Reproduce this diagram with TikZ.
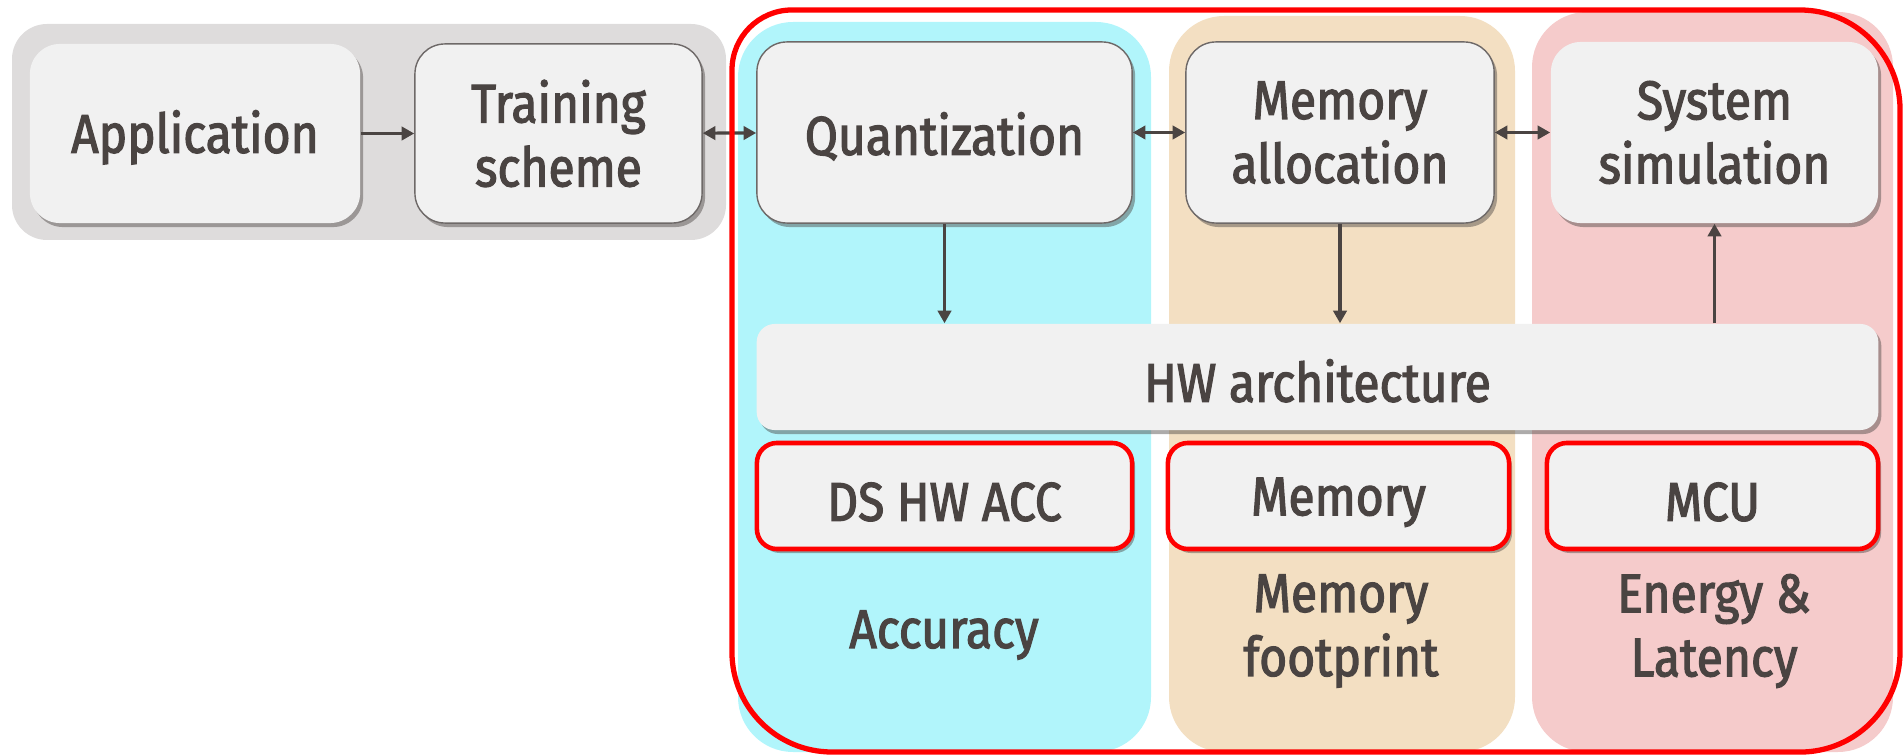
\documentclass[tikz,border=0pt]{standalone}
\usepackage{fontspec}
\setmainfont{Fira Sans}[FakeStretch=0.88, FakeBold=2.2]
\usetikzlibrary{arrows.meta,shadows}

\definecolor{ink}{HTML}{4A4442}
\definecolor{cardfill}{HTML}{F1F1F1}
\definecolor{panelgray}{HTML}{DEDCDC}
\definecolor{panelcyan}{HTML}{B1F5FB}
\definecolor{paneltan}{HTML}{F3DFC2}
\definecolor{panelpink}{HTML}{F5CBCB}
\definecolor{outlinered}{HTML}{FF0000}

\begin{document}
\begin{tikzpicture}[x=0.01cm,y=-0.01cm,
  txt/.style={text=ink, font=\fontsize{15.5}{18.2}\selectfont, align=center},
  card/.style={txt, fill=cardfill, rounded corners=0.3cm, inner sep=0pt,
    execute at begin node={\rule{0pt}{0.92em}},
    drop shadow={shadow xshift=0.03cm, shadow yshift=-0.04cm, fill=ink, opacity=0.45}},
  framed/.style={card, draw=ink!80, line width=0.4pt},
  redcard/.style={card, rounded corners=0.2cm, draw=outlinered, line width=1.3pt},
  flow/.style={draw=ink, line width=0.9pt, -{Triangle[length=3.6pt,width=3.8pt]}},
  flow2/.style={flow, {Triangle[length=3.6pt,width=3.8pt]}-{Triangle[length=3.6pt,width=3.8pt]}},
  panel/.style={rounded corners=0.55cm}
]
\useasboundingbox (0,0) rectangle (1903,755);

% background panels
\fill[panelgray, rounded corners=0.35cm] (12,24) rectangle (726,240);
\fill[panelcyan, panel] (738,22) rectangle (1151,752);
\fill[paneltan, panel] (1169,16) rectangle (1515,752);
\fill[panelpink, panel] (1532,12) rectangle (1893,752);

% top row of steps
\node[card, minimum width=3.30cm, minimum height=1.79cm] (app) at (195,133.5) {Application};
\node[framed, minimum width=2.87cm, minimum height=1.79cm] (train) at (558.5,133.5) {Training\\scheme};
\node[framed, minimum width=3.75cm, minimum height=1.81cm] (quant) at (944.5,132.5) {Quantization};
\node[framed, minimum width=3.08cm, minimum height=1.81cm] (alloc) at (1340,132.5) {Memory\\allocation};
\node[card, minimum width=3.27cm, minimum height=1.81cm] (sim) at (1714.5,132.5) {System\\simulation};

% hardware layer
\node[card, rounded corners=0.18cm, minimum width=11.21cm, minimum height=1.06cm] (hw) at (1317.5,377) {HW architecture};
\node[redcard, minimum width=3.75cm, minimum height=1.06cm] (ds) at (944.5,496) {DS HW ACC};
\node[redcard, minimum width=3.41cm, minimum height=1.06cm] (mem) at (1338.5,496) {Memory};
\node[redcard, minimum width=3.31cm, minimum height=1.06cm] (mcu) at (1712.5,496) {MCU};

% metrics
\node[txt] (acc) at (944,635) {Accuracy};
\node[txt] (foot) at (1341,631) {Memory\\footprint};
\node[txt] (energy) at (1714,631) {Energy \&\\Latency};

% connectors
\draw[flow] (app) -- (train);
\draw[flow2] (train) -- (quant);
\draw[flow2] (quant) -- (alloc);
\draw[flow2] (alloc) -- (sim);
\draw[flow] (quant) -- (quant |- hw.north);
\draw[flow] (alloc) -- (alloc |- hw.north);
\draw[flow] (sim |- hw.north) -- (sim);

% outline around the hardware-aware stages
\draw[outlinered, line width=1.5pt] (732,70)
  arc[start angle=180, end angle=90, radius=0.6cm] -- (1800,10)
  arc[start angle=90, end angle=0, radius=1.0cm] -- (1900,652)
  arc[start angle=0, end angle=-90, radius=1.0cm] -- (832,752)
  arc[start angle=270, end angle=180, radius=1.0cm] -- cycle;
\end{tikzpicture}
\end{document}
